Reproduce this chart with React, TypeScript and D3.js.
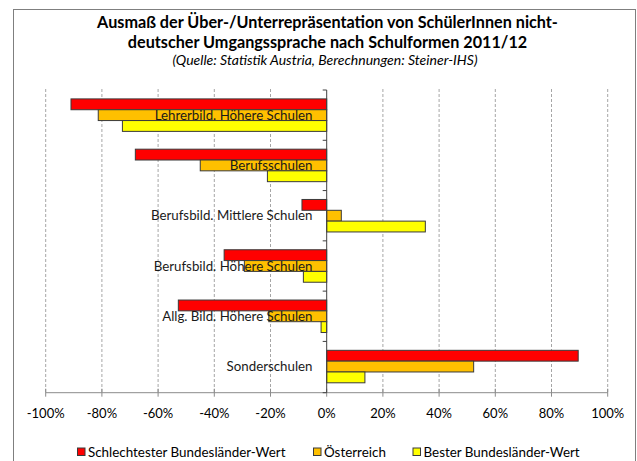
import React from 'react';
import * as d3 from 'd3';

// Schulformen (top to bottom)
const categories = [
  'Lehrerbild. Höhere Schulen',
  'Berufsschulen',
  'Berufsbild. Mittlere Schulen',
  'Berufsbild. Höhere Schulen',
  'Allg. Bild. Höhere Schulen',
  'Sonderschulen',
];

// values, as shares (-1 .. 1)
const schlechtester = [-0.91, -0.681, -0.088, -0.365, -0.528, 0.895];
const oesterreich = [-0.813, -0.45, 0.052, -0.293, -0.206, 0.523];
const bester = [-0.727, -0.211, 0.351, -0.083, -0.02, 0.136];

const seriesNames = ['Schlechtester Bundesländer-Wert', 'Österreich', 'Bester Bundesländer-Wert'];
const seriesValues = [schlechtester, oesterreich, bester];
const seriesColors = ['#FF0000', '#FFC000', '#FFFF00'];

const xTicks = [-1, -0.8, -0.6, -0.4, -0.2, 0, 0.2, 0.4, 0.6, 0.8, 1];

const W = 637;
const H = 461;
const FONT = 'Lato, "Open Sans", sans-serif';

export default function App() {
  const x = d3.scaleLinear().domain([-1, 1]).range([45.7, 607.7]);
  const y = d3.scaleBand<string>()
    .domain(categories)
    .range([90, 391.7])
    .paddingInner(0.354)
    .paddingOuter(0.177);
  const ys = d3.scaleBand<number>()
    .domain([0, 1, 2])
    .range([0, y.bandwidth()]);

  const x0 = x(0);
  const axisY = 392.7;
  const fmt = (d: number) => Math.round(d * 100) + '%';

  // category boundaries for the ticks on the zero axis
  const bounds = categories.map(c => (y(c) as number) - y.step() * y.paddingOuter());
  bounds.push(axisY);

  const legendX = [77.5, 313.5, 413];

  return (
    <svg width={W} height={H} style={{ position: 'absolute', left: 0, top: 0, background: '#fff' }}>
      <rect x={13.5} y={9.5} width={622} height={470} fill="#fff" stroke="#7f7f7f" strokeWidth={1} />

      <g fontFamily={FONT} textAnchor="middle" fill="#000">
        <text x={327.5} y={28} fontSize={16.2} fontWeight="bold">
          Ausmaß der Über-/Unterrepräsentation von SchülerInnen nicht-
        </text>
        <text x={327.5} y={48} fontSize={16.2} fontWeight="bold">
          deutscher Umgangssprache nach Schulformen 2011/12
        </text>
        <text x={325} y={64.5} fontSize={14} fontStyle="italic">
          (Quelle: Statistik Austria, Berechnungen: Steiner-IHS)
        </text>
      </g>

      {/* gridlines */}
      {xTicks.filter(t => t !== 0).map(t => (
        <line key={t} x1={x(t)} x2={x(t)} y1={89} y2={axisY}
          stroke="#a6a6a6" strokeWidth={1} strokeDasharray="3,2" />
      ))}

      {/* x axis */}
      <line x1={x(-1)} x2={x(1)} y1={axisY} y2={axisY} stroke="#8c8c8c" strokeWidth={1} />
      {xTicks.map(t => (
        <line key={t} x1={x(t)} x2={x(t)} y1={axisY - 4} y2={axisY + 4} stroke="#8c8c8c" strokeWidth={1} />
      ))}

      {/* bars */}
      {categories.map((c, i) => (
        <g key={c} transform={'translate(0,' + y(c) + ')'}>
          {seriesValues.map((vals, s) => {
            const v = vals[i];
            return (
              <rect key={s}
                x={Math.min(x(v), x0)}
                y={ys(s)}
                width={Math.abs(x(v) - x0)}
                height={ys.bandwidth()}
                fill={seriesColors[s]}
                stroke="#3a3a3a"
                strokeWidth={1} />
            );
          })}
        </g>
      ))}

      {/* zero axis */}
      <line x1={x0} x2={x0} y1={90} y2={axisY} stroke="#404040" strokeWidth={1} />
      {bounds.map((b, i) => (
        <line key={i} x1={x0 - 4} x2={x0} y1={b} y2={b} stroke="#404040" strokeWidth={1} />
      ))}

      {/* category labels */}
      <g fontFamily={FONT} fontSize={13.3} fill="#1a1a1a" textAnchor="end">
        {categories.map(c => (
          <text key={c} x={312.5} y={(y(c) as number) + y.bandwidth() / 2} dy="0.36em">{c}</text>
        ))}
      </g>

      {/* tick labels */}
      <g fontFamily={FONT} fontSize={13} fill="#000" textAnchor="middle">
        {xTicks.map(t => (
          <text key={t} x={x(t)} y={418}>{fmt(t)}</text>
        ))}
      </g>

      {/* legend */}
      <g fontFamily={FONT} fontSize={13.4} fill="#000">
        {seriesNames.map((n, s) => (
          <g key={n} transform={'translate(' + legendX[s] + ',448)'}>
            <rect x={0} y={0} width={7.5} height={7.5} fill={seriesColors[s]} stroke="#3a3a3a" strokeWidth={1} />
            <text x={10.5} y={8.5}>{n}</text>
          </g>
        ))}
      </g>
    </svg>
  );
}
